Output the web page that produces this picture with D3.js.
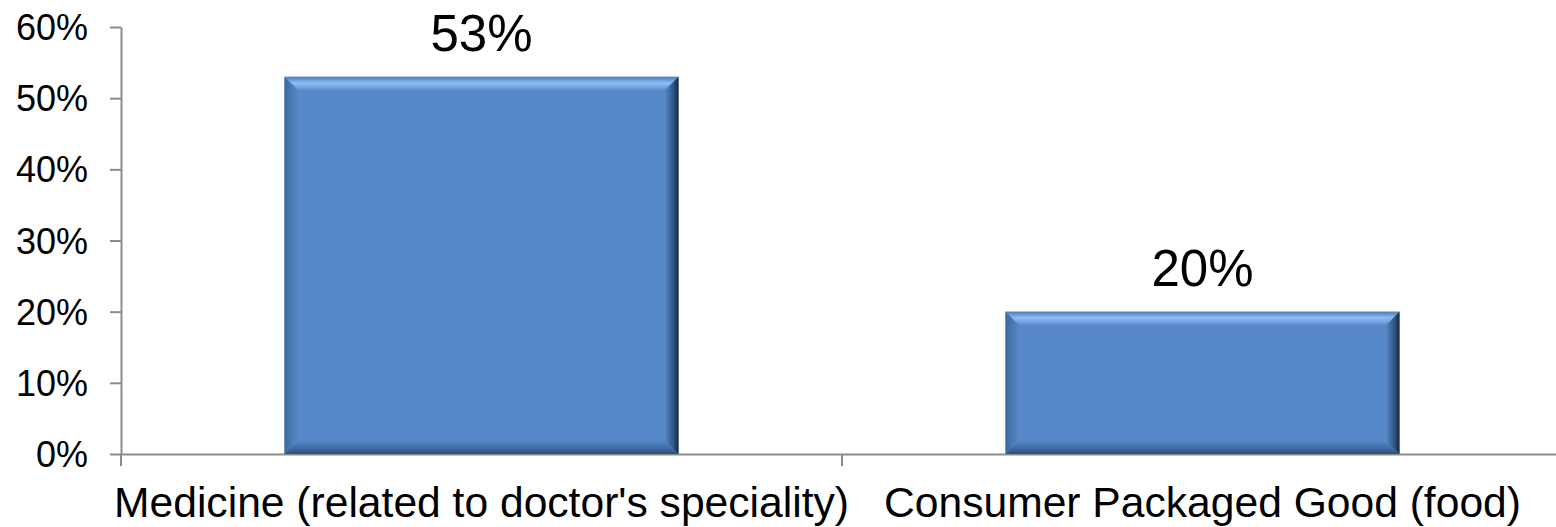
<!DOCTYPE html>
<html>
<head>
<meta charset="utf-8">
<script src="https://cdn.jsdelivr.net/npm/d3@7"></script>
<style>
  html, body { margin: 0; padding: 0; background: #fff; }
  svg { display: block; font-family: "Liberation Sans", Arial, sans-serif; }
</style>
</head>
<body>
<svg id="chart" width="1556" height="527"></svg>
<script>
// data
const categories = ["Medicine (related to doctor's speciality)", "Consumer Packaged Good (food)"];
const values = [0.53, 0.20];
const yTicks = [0, 0.1, 0.2, 0.3, 0.4, 0.5, 0.6];

const data = categories.map((c, i) => ({ cat: c, val: values[i] }));

const svg = d3.select("#chart");
const mLeft = 121, mRight = 1563, mTop = 27, mBottom = 454;

const x = d3.scaleBand()
    .domain(categories)
    .range([mLeft, mRight])
    .paddingInner(0.4535)
    .paddingOuter(0.22675);

const y = d3.scaleLinear()
    .domain([0, 0.6])
    .range([mBottom, mTop]);

// gradients for the bevel edges
const defs = svg.append("defs");
function grad(id, x1, y1, x2, y2, stops) {
    const g = defs.append("linearGradient").attr("id", id)
        .attr("x1", x1).attr("y1", y1).attr("x2", x2).attr("y2", y2);
    stops.forEach(s => g.append("stop").attr("offset", s[0]).attr("stop-color", s[1]));
}
grad("bvTop", 0, 0, 0, 1, [[0, "#4d7cb8"], [0.45, "#8dbdf6"], [0.7, "#77a6e2"], [1, "#5689c9"]]);
grad("bvLeft", 0, 0, 1, 0, [[0, "#3c6a9f"], [1, "#5689c9"]]);
grad("bvRight", 1, 0, 0, 0, [[0, "#14263d"], [0.35, "#2e5482"], [1, "#5689c9"]]);
grad("bvBottom", 0, 1, 0, 0, [[0, "#2c4d75"], [0.4, "#3f6ca3"], [1, "#5689c9"]]);

// y axis
const yAxis = svg.append("g")
    .attr("transform", `translate(${mLeft},0)`)
    .call(d3.axisLeft(y).tickValues(yTicks).tickFormat(d3.format(".0%"))
        .tickSize(11).tickSizeOuter(0).tickPadding(22));
yAxis.select(".domain").attr("stroke", "#8c8c8c").attr("stroke-width", 2);
yAxis.selectAll(".tick line").attr("stroke", "#8c8c8c").attr("stroke-width", 2);
yAxis.selectAll(".tick text").attr("font-size", 36).attr("fill", "#000")
    .attr("font-family", "Liberation Sans, Arial, sans-serif").attr("dy", "0.35em");

// x axis
const xAxis = svg.append("g")
    .attr("transform", `translate(0,${mBottom})`)
    .call(d3.axisBottom(x).tickSize(0).tickSizeOuter(0).tickPadding(33));
xAxis.select(".domain").attr("stroke", "#8c8c8c").attr("stroke-width", 2);
xAxis.selectAll(".tick text").attr("font-size", 42.6).attr("fill", "#000")
    .attr("font-family", "Liberation Sans, Arial, sans-serif");

// separators between categories
const bounds = [mLeft].concat(categories.map(c => x(c) - x.step() * x.paddingInner() / 2 + x.step()));
xAxis.selectAll("line.sep")
    .data(bounds)
    .join("line")
    .attr("class", "sep")
    .attr("x1", d => d).attr("x2", d => d)
    .attr("y1", 0).attr("y2", 12)
    .attr("stroke", "#8c8c8c").attr("stroke-width", 2);

// bars with bevel
const b = 14;
const bars = svg.append("g").selectAll("g.bar")
    .data(data)
    .join("g")
    .attr("class", "bar");

bars.append("rect")
    .attr("x", d => x(d.cat))
    .attr("y", d => y(d.val))
    .attr("width", x.bandwidth())
    .attr("height", d => y(0) - y(d.val))
    .attr("fill", "#5689c9");

function poly(pts) { return pts.map(p => p.join(",")).join(" "); }

bars.append("polygon").attr("fill", "url(#bvTop)")
    .attr("points", d => {
        const x0 = x(d.cat), x1 = x0 + x.bandwidth(), y0 = y(d.val);
        return poly([[x0, y0], [x1, y0], [x1 - b, y0 + b], [x0 + b, y0 + b]]);
    });
bars.append("polygon").attr("fill", "url(#bvBottom)")
    .attr("points", d => {
        const x0 = x(d.cat), x1 = x0 + x.bandwidth(), y1 = y(0);
        return poly([[x0, y1], [x1, y1], [x1 - b, y1 - b], [x0 + b, y1 - b]]);
    });
bars.append("polygon").attr("fill", "url(#bvLeft)")
    .attr("points", d => {
        const x0 = x(d.cat), y0 = y(d.val), y1 = y(0);
        return poly([[x0, y0], [x0 + b, y0 + b], [x0 + b, y1 - b], [x0, y1]]);
    });
bars.append("polygon").attr("fill", "url(#bvRight)")
    .attr("points", d => {
        const x1 = x(d.cat) + x.bandwidth(), y0 = y(d.val), y1 = y(0);
        return poly([[x1, y0], [x1 - b, y0 + b], [x1 - b, y1 - b], [x1, y1]]);
    });

// value labels
svg.append("g").selectAll("text")
    .data(data)
    .join("text")
    .attr("x", d => x(d.cat) + x.bandwidth() / 2)
    .attr("y", d => y(d.val) - 26)
    .attr("text-anchor", "middle")
    .attr("font-size", 51)
    .attr("fill", "#000")
    .text(d => d3.format(".0%")(d.val));
</script>
</body>
</html>
